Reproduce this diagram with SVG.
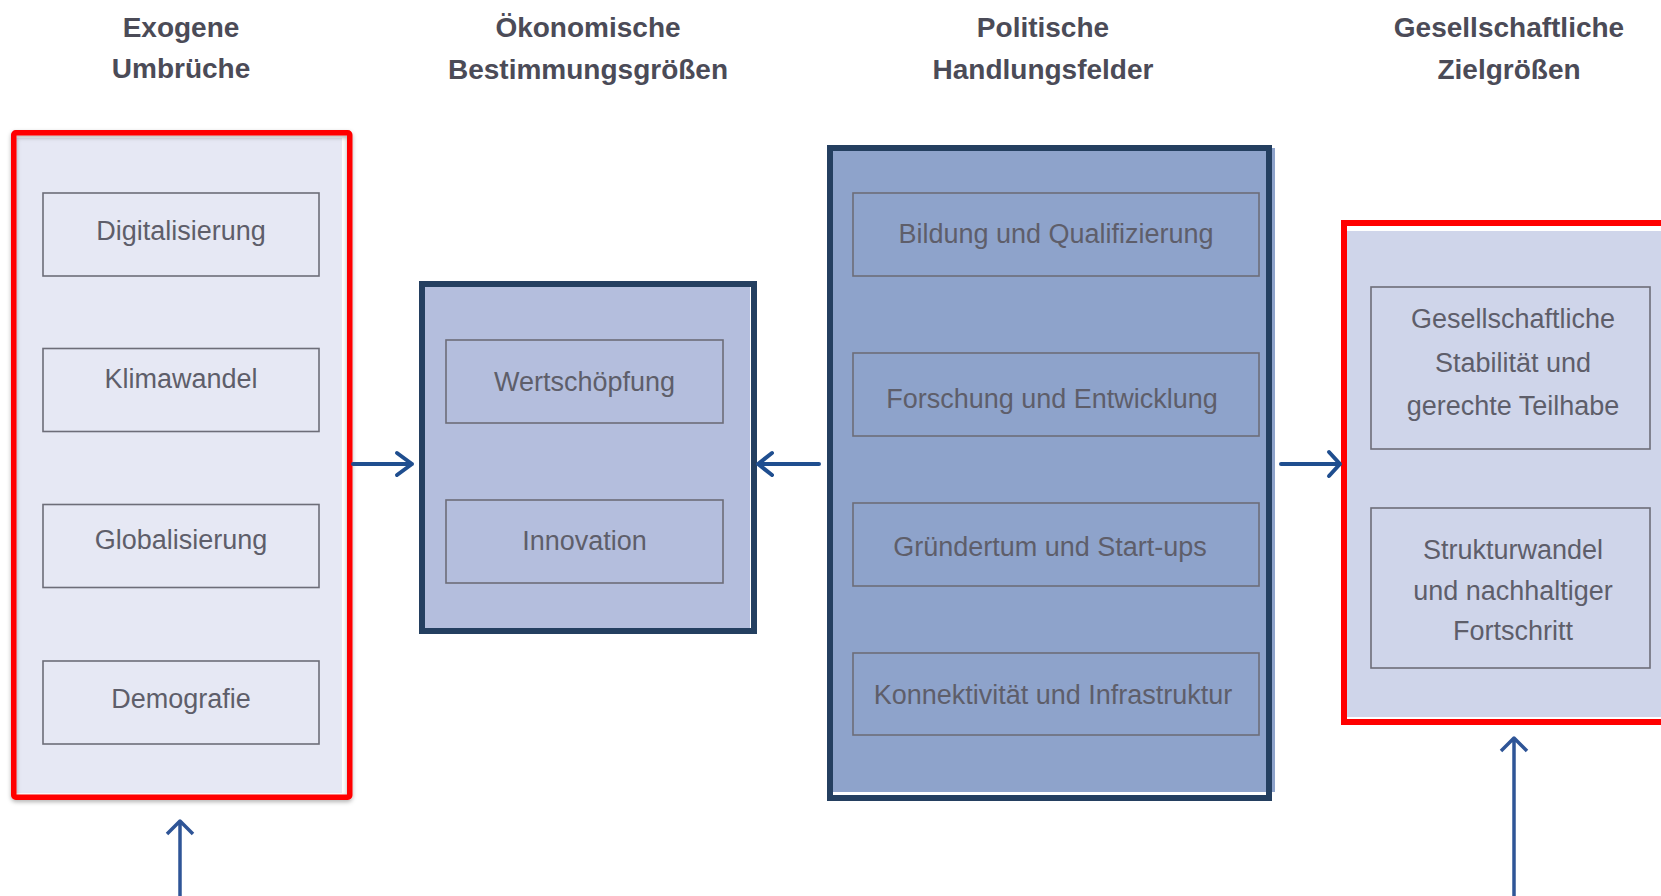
<svg xmlns="http://www.w3.org/2000/svg" width="1661" height="896" viewBox="0 0 1661 896">
<defs>
<style>
.hdr{font-family:"Liberation Sans",Arial,sans-serif;font-weight:bold;font-size:28px;fill:#4B4B57;text-anchor:middle}
.lbl{font-family:"Liberation Sans",Arial,sans-serif;font-size:27px;fill:#5E5E6A;text-anchor:middle}
.item{fill:none;stroke:#6D6D78;stroke-width:1.6}
.red{fill:none;stroke:#FF0000;stroke-width:5.5}
.navy{fill:none;stroke:#243F60;stroke-width:6}
.conn{fill:none;stroke:#1F4E8F;stroke-width:4;stroke-linecap:round;stroke-linejoin:round}
.conn2{fill:none;stroke:#2F5597;stroke-width:3.5;stroke-linecap:butt;stroke-linejoin:round}
</style>
<filter id="sh" x="-5%" y="-5%" width="110%" height="110%">
<feDropShadow dx="0" dy="2" stdDeviation="2" flood-color="#000" flood-opacity="0.3"/>
</filter>
</defs>
<rect width="1661" height="896" fill="#FFFFFF"/>

<g id="headers">
<text class="hdr" x="181" y="37">Exogene</text>
<text class="hdr" x="181" y="78">Umbrüche</text>
<text class="hdr" x="588" y="37">Ökonomische</text>
<text class="hdr" x="588" y="79">Bestimmungsgrößen</text>
<text class="hdr" x="1043" y="37">Politische</text>
<text class="hdr" x="1043" y="79">Handlungsfelder</text>
<text class="hdr" x="1509" y="37">Gesellschaftliche</text>
<text class="hdr" x="1509" y="79">Zielgrößen</text>
</g>

<g id="exogene">
<rect x="16" y="138" width="326" height="655" fill="#E6E8F4"/>
<rect class="red" x="13.75" y="132.75" width="336" height="664.5" rx="2" filter="url(#sh)"/>
<g id="digitalisierung"><rect class="item" x="43" y="193" width="276" height="83"/><text class="lbl" x="181" y="240">Digitalisierung</text></g>
<g id="klimawandel"><rect class="item" x="43" y="348.5" width="276" height="83"/><text class="lbl" x="181" y="388">Klimawandel</text></g>
<g id="globalisierung"><rect class="item" x="43" y="504.5" width="276" height="83"/><text class="lbl" x="181" y="549">Globalisierung</text></g>
<g id="demografie"><rect class="item" x="43" y="661" width="276" height="83"/><text class="lbl" x="181" y="708">Demografie</text></g>
</g>

<g id="oekonomisch">
<rect x="422" y="284" width="328" height="347" fill="#B4BEDD"/>
<rect class="navy" x="422" y="284" width="332" height="347"/>
<g id="wertschoepfung"><rect class="item" x="446" y="340" width="277" height="83"/><text class="lbl" x="584.5" y="391">Wertschöpfung</text></g>
<g id="innovation"><rect class="item" x="446" y="500" width="277" height="83"/><text class="lbl" x="584.5" y="550">Innovation</text></g>
</g>

<g id="politisch">
<rect x="830" y="148" width="445" height="644" fill="#8EA3CB"/>
<rect class="navy" x="830" y="148" width="439" height="650"/>
<g id="bildung"><rect class="item" x="853" y="193" width="406" height="83"/><text class="lbl" x="1056" y="243">Bildung und Qualifizierung</text></g>
<g id="forschung"><rect class="item" x="853" y="353" width="406" height="83"/><text class="lbl" x="1052" y="408">Forschung und Entwicklung</text></g>
<g id="gruendertum"><rect class="item" x="853" y="503" width="406" height="83"/><text class="lbl" x="1050" y="556">Gründertum und Start-ups</text></g>
<g id="konnektivitaet"><rect class="item" x="853" y="653" width="406" height="82"/><text class="lbl" x="1053" y="704">Konnektivität und Infrastruktur</text></g>
</g>

<g id="gesellschaftlich">
<rect x="1347" y="231" width="320" height="486" fill="#CFD5EA"/>
<rect class="red" x="1344" y="223" width="330" height="499" style="stroke-width:6"/>
<g id="stabilitaet"><rect class="item" x="1371" y="287" width="279" height="162"/>
<text class="lbl" x="1513" y="328">Gesellschaftliche</text>
<text class="lbl" x="1513" y="372">Stabilität und</text>
<text class="lbl" x="1513" y="415">gerechte Teilhabe</text></g>
<g id="strukturwandel"><rect class="item" x="1371" y="508" width="279" height="160"/>
<text class="lbl" x="1513" y="559">Strukturwandel</text>
<text class="lbl" x="1513" y="600">und nachhaltiger</text>
<text class="lbl" x="1513" y="640">Fortschritt</text></g>
</g>

<g id="connectors">
<path class="conn" d="M353 464 H412 M397 453 L412 464 L397 475"/>
<path class="conn" d="M819 464 H758 M772 453 L758 464 L772 475"/>
<path class="conn" d="M1281 464 H1340 M1329 452 L1340 464 L1329 476"/>
<path class="conn2" d="M180 896 V821 M167 834 L180 821 L193 834"/>
<path class="conn2" d="M1514 896 V738 M1501 751 L1514 738 L1527 751"/>
</g>
</svg>
